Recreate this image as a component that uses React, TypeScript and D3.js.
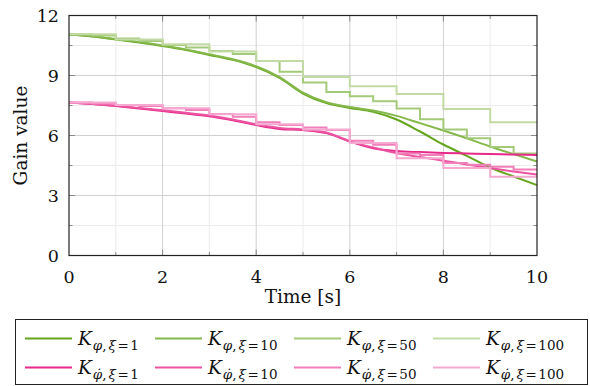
import { useRef, useEffect } from 'react';
import * as d3 from 'd3';

// sample times for the continuous curves (s)
const timeFine = [0, 0.5, 1, 1.5, 2, 2.5, 3, 3.5, 4, 4.5, 5, 5.5, 6, 6.5, 7, 7.5, 8, 8.5, 9, 9.5, 10];
const stepTimes50 = [0, 0.5, 1, 1.5, 2, 2.5, 3, 3.5, 4, 4.5, 5, 5.5, 6, 6.5, 7, 7.5, 8, 8.5, 9, 9.5];
const stepTimes100 = [0, 1, 2, 3, 4, 5, 6, 7, 8, 9];

const phiXi1 = [11.05, 10.95, 10.8, 10.65, 10.48, 10.28, 10.03, 9.78, 9.42, 8.88, 8.1, 7.62, 7.38, 7.18, 6.8, 6.2, 5.55, 4.98, 4.4, 3.95, 3.52];
const phiXi10 = [11.05, 10.96, 10.82, 10.67, 10.5, 10.3, 10.06, 9.81, 9.46, 8.92, 8.14, 7.66, 7.42, 7.25, 6.98, 6.62, 6.25, 5.86, 5.45, 5.07, 4.7];
const phiXi50 = [11.06, 11.0, 10.85, 10.72, 10.52, 10.4, 10.22, 10.08, 9.73, 9.19, 8.65, 8.17, 7.96, 7.71, 7.35, 6.81, 6.3, 5.86, 5.42, 5.1];
const phiXi100 = [11.06, 10.8, 10.56, 10.2, 9.73, 8.92, 8.46, 8.07, 7.32, 6.66];

const dphiXi1 = [7.65, 7.57, 7.47, 7.35, 7.22, 7.1, 6.96, 6.76, 6.52, 6.33, 6.27, 6.12, 5.7, 5.36, 5.22, 5.17, 5.13, 5.1, 5.07, 5.05, 5.02];
const dphiXi10 = [7.65, 7.58, 7.49, 7.38, 7.26, 7.14, 7.0, 6.8, 6.56, 6.38, 6.3, 6.15, 5.72, 5.4, 5.12, 4.92, 4.74, 4.55, 4.37, 4.2, 4.05];
const dphiXi50 = [7.65, 7.6, 7.53, 7.47, 7.36, 7.28, 7.08, 6.94, 6.66, 6.52, 6.4, 6.28, 5.74, 5.54, 5.1, 5.02, 4.62, 4.54, 4.44, 4.3];
const dphiXi100 = [7.65, 7.53, 7.36, 7.06, 6.56, 6.3, 5.62, 4.86, 4.38, 3.94];

const xiLabels = ['1', '10', '50', '100'];
const greens = ['#66a61e', '#85b84b', '#a3ca78', '#c2dba5'];
const pinks = ['#e7298a', '#ec54a1', '#f17fb9', '#f5a9d0'];

const xTicks = [0, 2, 4, 6, 8, 10];
const yTicks = [0, 3, 6, 9, 12];

export default function App() {
  const svgRef = useRef(null);

  useEffect(() => {
    const width = 590;
    const height = 386;
    const m = { left: 69, right: 537, top: 15.5, bottom: 255.5 };
    const svg = d3.select(svgRef.current);
    svg.selectAll('*').remove();

    const x = d3.scaleLinear().domain([0, 10]).range([m.left, m.right]);
    const y = d3.scaleLinear().domain([0, 12]).range([m.bottom, m.top]);
    const font = 'DejaVu Serif';

    // grid
    const g = svg.append('g');
    d3.range(1, 10, 2).forEach(t =>
      g.append('line').attr('x1', x(t)).attr('x2', x(t)).attr('y1', m.top).attr('y2', m.bottom)
        .attr('stroke', '#ececec').attr('stroke-width', 1));
    d3.range(1.5, 12, 3).forEach(v =>
      g.append('line').attr('x1', m.left).attr('x2', m.right).attr('y1', y(v)).attr('y2', y(v))
        .attr('stroke', '#ececec').attr('stroke-width', 1));
    xTicks.slice(1, -1).forEach(t =>
      g.append('line').attr('x1', x(t)).attr('x2', x(t)).attr('y1', m.top).attr('y2', m.bottom)
        .attr('stroke', '#d0d0d0').attr('stroke-width', 1));
    yTicks.slice(1, -1).forEach(v =>
      g.append('line').attr('x1', m.left).attr('x2', m.right).attr('y1', y(v)).attr('y2', y(v))
        .attr('stroke', '#d0d0d0').attr('stroke-width', 1));

    // ticks (inside, on all sides)
    const tk = svg.append('g').attr('stroke', '#8a8a8a').attr('stroke-width', 1);
    d3.range(1, 10).forEach(t => {
      const len = t % 2 === 0 ? 6 : 3.5;
      tk.append('line').attr('x1', x(t)).attr('x2', x(t)).attr('y1', m.bottom).attr('y2', m.bottom - len);
      tk.append('line').attr('x1', x(t)).attr('x2', x(t)).attr('y1', m.top).attr('y2', m.top + len);
    });
    d3.range(1.5, 12, 1.5).forEach(v => {
      const len = v % 3 === 0 ? 6 : 3.5;
      tk.append('line').attr('x1', m.left).attr('x2', m.left + len).attr('y1', y(v)).attr('y2', y(v));
      tk.append('line').attr('x1', m.right).attr('x2', m.right - len).attr('y1', y(v)).attr('y2', y(v));
    });

    // series
    const smooth = d3.line().x(d => x(d[0])).y(d => y(d[1])).curve(d3.curveMonotoneX);
    const stepped = d3.line().x(d => x(d[0])).y(d => y(d[1])).curve(d3.curveStepAfter);
    const toSmooth = vals => timeFine.map((t, i) => [t, vals[i]]);
    const toSteps = (times, vals) => [...times.map((t, i) => [t, vals[i]]), [10, vals[vals.length - 1]]];

    const plot = svg.append('g').attr('fill', 'none').attr('stroke-width', 2);
    const series = [
      { d: smooth(toSmooth(phiXi1)), c: greens[0] },
      { d: smooth(toSmooth(phiXi10)), c: greens[1] },
      { d: stepped(toSteps(stepTimes50, phiXi50)), c: greens[2] },
      { d: stepped(toSteps(stepTimes100, phiXi100)), c: greens[3] },
      { d: smooth(toSmooth(dphiXi1)), c: pinks[0] },
      { d: smooth(toSmooth(dphiXi10)), c: pinks[1] },
      { d: stepped(toSteps(stepTimes50, dphiXi50)), c: pinks[2] },
      { d: stepped(toSteps(stepTimes100, dphiXi100)), c: pinks[3] },
    ];
    series.forEach(s => plot.append('path').attr('d', s.d).attr('stroke', s.c));

    // frame
    svg.append('rect').attr('x', m.left).attr('y', m.top).attr('width', m.right - m.left)
      .attr('height', m.bottom - m.top).attr('fill', 'none').attr('stroke', '#222').attr('stroke-width', 1.2);

    // tick labels
    const lbl = svg.append('g').attr('font-family', font).attr('font-size', 17.5).attr('fill', '#111');
    xTicks.forEach(t => lbl.append('text').attr('x', x(t)).attr('y', m.bottom + 27).attr('text-anchor', 'middle').text(t));
    yTicks.forEach(v => lbl.append('text').attr('x', m.left - 10).attr('y', y(v) + 6).attr('text-anchor', 'end').text(v));
    lbl.append('text').attr('x', (m.left + m.right) / 2).attr('y', 303).attr('text-anchor', 'middle')
      .attr('font-size', 18.5).text('Time [s]');
    lbl.append('text').attr('transform', `translate(27,${(m.top + m.bottom) / 2}) rotate(-90)`)
      .attr('text-anchor', 'middle').attr('font-size', 18.5).text('Gain value');

    // legend
    const leg = svg.append('g');
    leg.append('rect').attr('x', 15.5).attr('y', 319.5).attr('width', 572).attr('height', 65)
      .attr('fill', 'white').attr('stroke', '#222').attr('stroke-width', 1);
    const colX = [25, 155, 294, 433];
    const rowY = [338.5, 367.5];
    [greens, pinks].forEach((cols, r) => {
      cols.forEach((c, i) => {
        const x0 = colX[i];
        leg.append('line').attr('x1', x0).attr('x2', x0 + 47).attr('y1', rowY[r]).attr('y2', rowY[r])
          .attr('stroke', c).attr('stroke-width', 2);
        const t = leg.append('text').attr('x', x0 + 53).attr('y', rowY[r] + 6)
          .attr('font-family', font).attr('font-size', 18.5).attr('fill', '#111');
        t.append('tspan').attr('font-style', 'italic').text('K');
        const sub = t.append('tspan').attr('dy', 5).attr('font-size', 13.5);
        sub.append('tspan').attr('dx', 1).attr('font-style', 'italic').text(r === 0 ? 'φ' : 'φ\u0307');
        sub.append('tspan').text(',');
        sub.append('tspan').attr('dx', 2).attr('font-style', 'italic').text('ξ');
        sub.append('tspan').attr('dx', 1.5).text('=');
        sub.append('tspan').attr('dx', 1.5).text(xiLabels[i]);
      });
    });

    svg.attr('viewBox', `0 0 ${width} ${height}`);
  }, []);

  return (
    <svg
      ref={svgRef}
      width={590}
      height={386}
      style={{ position: 'absolute', left: 0, top: 0, background: 'white' }}
    />
  );
}
